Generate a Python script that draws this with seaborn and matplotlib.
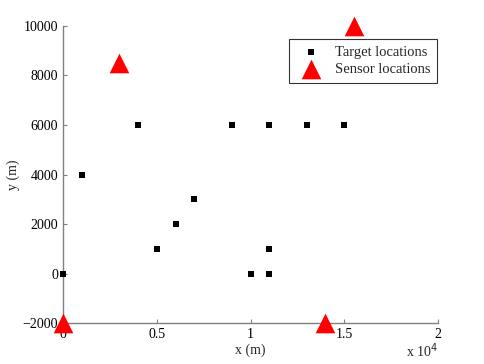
import matplotlib
matplotlib.use("Agg")
import matplotlib.pyplot as plt
import seaborn as sns
import pandas as pd
from matplotlib.ticker import FuncFormatter

sns.set_style("white")
plt.rcParams["font.family"] = ["Liberation Serif", "DejaVu Serif"]

target_x = [0, 1000, 4000, 5000, 6000, 7000, 9000, 11000, 13000, 15000, 10000, 11000, 11000]
target_y = [0, 4000, 6000, 1000, 2000, 3000, 6000, 6000, 6000, 6000, 0, 0, 1000]
sensor_x = [0, 3000, 14000, 15500]
sensor_y = [-2000, 8500, -2000, 10000]

targets = pd.DataFrame({"x": target_x, "y": target_y})
sensors = pd.DataFrame({"x": sensor_x, "y": sensor_y})

fig = plt.figure(figsize=(4.85, 3.64), dpi=100)
ax = fig.add_axes([0.13, 0.1126, 0.773, 0.816])

sns.scatterplot(data=targets, x="x", y="y", marker="s", s=22, color="black",
                edgecolor="black", linewidth=0, ax=ax, label="Target locations",
                clip_on=False, zorder=3)
sns.scatterplot(data=sensors, x="x", y="y", marker="^", s=200, color="red",
                edgecolor="red", linewidth=0, ax=ax, label="Sensor locations",
                clip_on=False, zorder=4)

ax.set_xlim(0, 20000)
ax.set_ylim(-2000, 10000)
ax.set_xticks([0, 5000, 10000, 15000, 20000])
ax.set_yticks(range(-2000, 10001, 2000))
ax.xaxis.set_major_formatter(FuncFormatter(lambda v, p: f"{v / 1e4:g}"))
ax.yaxis.set_major_formatter(FuncFormatter(lambda v, p: f"{int(v)}".replace("-", "\u2212")))

ax.tick_params(direction="in", length=3, width=0.8, colors="#808080",
               labelcolor="black", labelsize=10, bottom=True, left=True)
for side in ["top", "right"]:
    ax.spines[side].set_visible(False)
for side in ["bottom", "left"]:
    ax.spines[side].set_color("#808080")
    ax.spines[side].set_linewidth(1.0)

ax.set_xlabel("x (m)", fontsize=10, labelpad=2)
ax.set_ylabel("y (m)", fontsize=10, labelpad=2)
ax.text(1.0, -0.062, "x 10$^4$", transform=ax.transAxes, ha="right", va="top", fontsize=10)

leg = ax.legend(loc="upper right", bbox_to_anchor=(0.997, 0.955), borderaxespad=0,
                fontsize=10.5, frameon=True, fancybox=False, handletextpad=0.5,
                borderpad=0.45, labelspacing=0.25, handlelength=2.2)
leg.get_frame().set_edgecolor("black")
leg.get_frame().set_linewidth(0.8)

fig.savefig("out.png", dpi=100)
